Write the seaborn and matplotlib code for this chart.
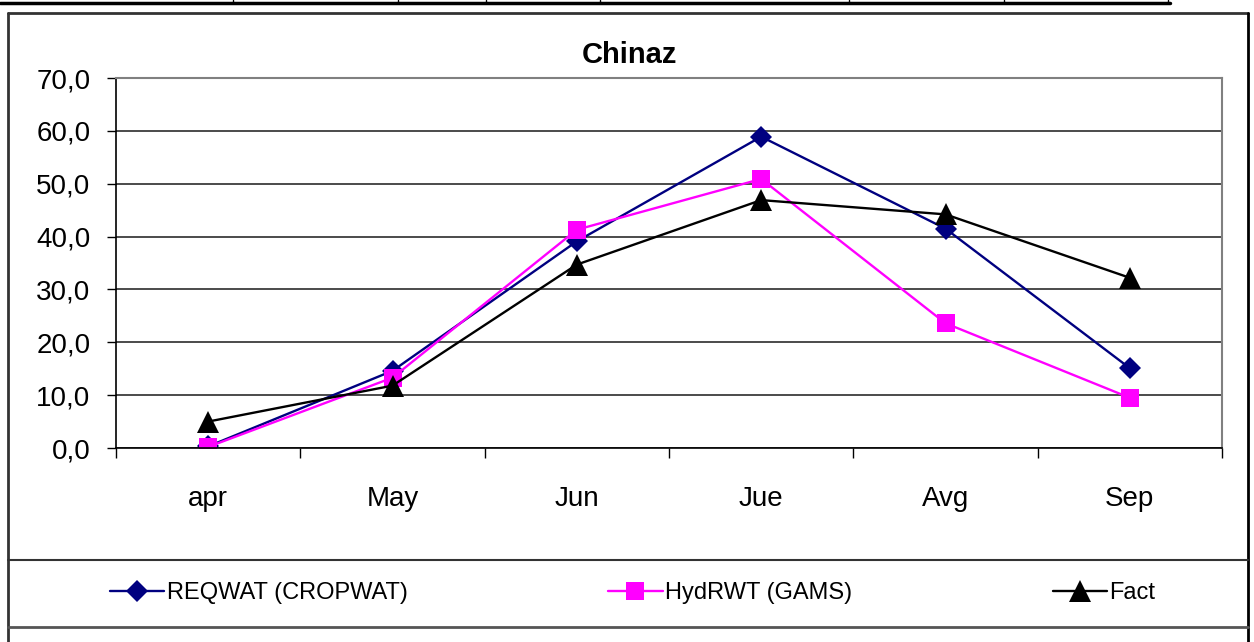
import matplotlib
matplotlib.use("Agg")
import matplotlib.pyplot as plt
from matplotlib.lines import Line2D
from matplotlib.ticker import FixedLocator
import seaborn as sns
import pandas as pd

# ---- data -------------------------------------------------------------
months = ["apr", "May", "Jun", "Jue", "Avg", "Sep"]
reqwat = [0.3, 14.6, 39.1, 58.9, 41.5, 15.1]
hydrwt = [0.2, 13.3, 41.3, 50.9, 23.6, 9.5]
fact = [5.0, 11.8, 34.7, 46.9, 44.2, 32.2]
series_names = ["REQWAT (CROPWAT)", "HydRWT (GAMS)", "Fact"]
y_ticks = [0, 10, 20, 30, 40, 50, 60, 70]
y_tick_labels = ["0,0", "10,0", "20,0", "30,0", "40,0", "50,0", "60,0", "70,0"]
title = "Chinaz"

# ---- style ------------------------------------------------------------
sns.set_style("white", rc={"text.color": "black", "xtick.color": "black",
                           "ytick.color": "black", "axes.labelcolor": "black"})
plt.rcParams["font.family"] = ["Liberation Sans", "DejaVu Sans"]

W, H = 1254, 642
fig = plt.figure(figsize=(W / 100, H / 100), dpi=100)


def fx(px):
    return px / W


def fy(py):
    return 1 - py / H


# plot area in pixel coordinates
left, right, top, bottom = 116, 1222, 78, 448
ax = fig.add_axes([fx(left), fy(bottom), fx(right - left), (bottom - top) / H])

df = pd.DataFrame({"pos": list(range(len(months))) * 3,
                   "value": reqwat + hydrwt + fact,
                   "series": [s for s in series_names for _ in months]})

styles = {
    "REQWAT (CROPWAT)": dict(color="#000080", marker="D", markersize=11.5),
    "HydRWT (GAMS)": dict(color="#FF00FF", marker="s", markersize=13),
    "Fact": dict(color="black", marker="^", markersize=16),
}
for name in series_names:
    sub = df[df["series"] == name]
    st = styles[name]
    sns.lineplot(data=sub, x="pos", y="value", ax=ax, label=name,
                 color=st["color"], marker=st["marker"],
                 markersize=st["markersize"], markeredgewidth=0,
                 markerfacecolor=st["color"], linewidth=1.7, sort=False)

ax.set_xlim(-0.5, len(months) - 0.5)
ax.set_ylim(0, 70)
ax.set_xlabel("")
ax.set_ylabel("")

# category labels centred, tick marks on category boundaries
ax.set_xticks(range(len(months)))
ax.set_xticklabels(months, fontsize=20, color="black")
ax.xaxis.set_minor_locator(FixedLocator([i - 0.5 for i in range(len(months) + 1)]))
ax.tick_params(axis="x", which="major", length=0, pad=27)
ax.tick_params(axis="x", which="minor", length=7.5, width=1, color="black",
               direction="out", bottom=True)

ax.set_yticks(y_ticks)
ax.set_yticklabels(y_tick_labels, fontsize=20, color="black")
ax.tick_params(axis="y", which="major", length=6.5, width=1, color="black",
               direction="out", left=True, pad=12)

ax.yaxis.grid(True, color="#1a1a1a", linewidth=1.1)
ax.xaxis.grid(False)
ax.set_axisbelow(True)

for side in ("left", "bottom"):
    ax.spines[side].set_color("black")
    ax.spines[side].set_linewidth(1.2)
for side in ("top", "right"):
    ax.spines[side].set_color("#808080")
    ax.spines[side].set_linewidth(1.5)

fig.text(fx(629), fy(55), title, ha="center", va="center",
         fontsize=21, fontweight="bold", color="black")

# legend in its own box below the chart
handles, labels = ax.get_legend_handles_labels()
ax.get_legend().remove()
leg = fig.legend(handles, labels, ncol=3, loc="center left",
                 bbox_to_anchor=(fx(110), fy(593)), bbox_transform=fig.transFigure,
                 frameon=False, fontsize=17, handlelength=2.3, handletextpad=0.1,
                 columnspacing=8.5, borderpad=0, borderaxespad=0)
for t in leg.get_texts():
    t.set_color("black")

# chart frame and legend frame
frame_kw = dict(transform=fig.transFigure, color="#333333")
fig.add_artist(Line2D([fx(8), fx(1248)], [fy(13), fy(13)], lw=2, **frame_kw))
fig.add_artist(Line2D([fx(8), fx(8)], [fy(13), fy(642)], lw=2, **frame_kw))
fig.add_artist(Line2D([fx(1248), fx(1248)], [fy(13), fy(642)], lw=2,
                      transform=fig.transFigure, color="black"))
fig.add_artist(Line2D([fx(8), fx(1248)], [fy(560), fy(560)], lw=1.5, **frame_kw))
fig.add_artist(Line2D([fx(8), fx(1248)], [fy(627), fy(627)], lw=2,
                      transform=fig.transFigure, color="#555555"))

# table rule along the top edge
fig.add_artist(Line2D([0, fx(1170)], [fy(3), fy(3)], lw=2.5,
                      transform=fig.transFigure, color="black"))
for xv in [233, 398, 486, 600, 849, 1004, 1168]:
    fig.add_artist(Line2D([fx(xv), fx(xv)], [fy(0), fy(3)], lw=1,
                          transform=fig.transFigure, color="black"))

fig.savefig("out.png", dpi=100)
